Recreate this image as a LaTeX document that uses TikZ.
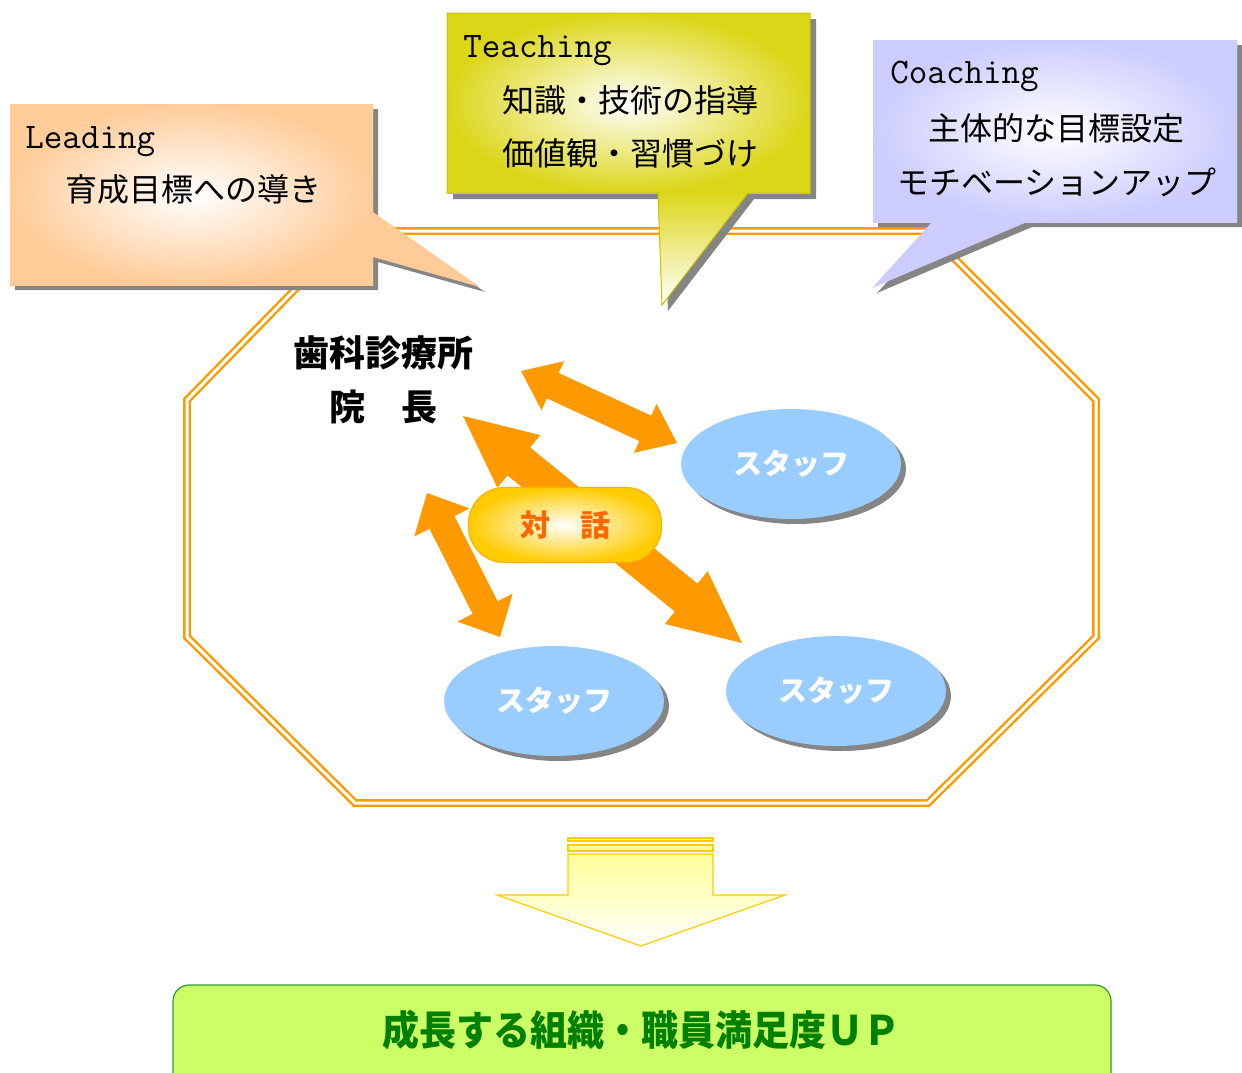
\documentclass[tikz,border=0pt]{standalone}
\usepackage{fontspec}
\newfontfamily\jp{Noto Sans CJK JP}
\usetikzlibrary{calc,shapes.geometric}
\definecolor{peach}{HTML}{FFCC99}
\definecolor{olivey}{RGB}{220,214,24}
\definecolor{oliveline}{RGB}{200,195,0}
\definecolor{lav}{HTML}{CCCCFF}
\definecolor{arr}{HTML}{FF9900}
\definecolor{octo}{HTML}{FF9900}
\definecolor{sky}{HTML}{99CCFF}
\definecolor{gold}{HTML}{FFCC00}
\definecolor{goldline}{HTML}{FFB000}
\definecolor{talkc}{HTML}{FF6600}
\definecolor{lime}{HTML}{CCFF66}
\definecolor{limeline}{HTML}{339933}
\definecolor{dgreen}{HTML}{008000}
\definecolor{shadowc}{HTML}{858585}
\definecolor{paleyellow}{HTML}{FFFF99}
\tikzset{
  lat/.style={font=\ttfamily\addfontfeature{FakeBold=0.6}\fontsize{18pt}{20pt}\selectfont, inner sep=0pt, anchor=base west},
  jtxt/.style={font=\jp\fontsize{16pt}{18pt}\selectfont, inner sep=0pt, anchor=west},
  staff/.style={ellipse, fill=sky, minimum width=110pt, minimum height=55pt, inner sep=0pt,
     text=white, font=\jp\bfseries\fontsize{14.5pt}{16pt}\selectfont},
  staffsh/.style={ellipse, fill=shadowc, minimum width=110pt, minimum height=55pt, inner sep=0pt},
  pill/.style={rounded corners=18pt, minimum width=96.5pt, minimum height=37.5pt, inner sep=0pt,
     inner color=white, outer color=gold, draw=goldline, line width=0.6pt,
     text=talkc, font=\jp\bfseries\fontsize{15pt}{17pt}\selectfont},
  arrowc/.style={fill=arr},
}
\newcommand\fatdouble[6]{%
  \coordinate (#6h1) at ($(#1)!#5!(#2)$);
  \coordinate (#6h2) at ($(#2)!#5!(#1)$);
  \fill[arrowc] (#1) -- ($(#6h1)!#4!90:(#2)$) -- ($(#6h1)!#3!90:(#2)$)
    -- ($(#6h2)!#3!-90:(#1)$) -- ($(#6h2)!#4!-90:(#1)$) -- (#2)
    -- ($(#6h2)!#4!90:(#1)$) -- ($(#6h2)!#3!90:(#1)$)
    -- ($(#6h1)!#3!-90:(#2)$) -- ($(#6h1)!#4!-90:(#2)$) -- cycle;}
\begin{document}
\begin{tikzpicture}[x=0.5pt,y=-0.5pt]
\useasboundingbox (0,0) rectangle (1242,1072);
% octagon
\draw[octo, double=white, line width=1.2pt, double distance=1.5pt, line join=miter]
  (352,231) -- (927,231) -- (1096,400) -- (1096,637) -- (928,803) -- (355,803)
  -- (187,637) -- (187,400) -- cycle;
% Leading callout
\fill[shadowc, shift={(5,5)}] (10,104) -- (373,104) -- (373,212) -- (480,287) -- (373,257)
  -- (373,285) -- (10,285) -- cycle;
\fill[peach] (10,104) -- (373,104) -- (373,212) -- (480,287) -- (373,257)
  -- (373,285) -- (10,285) -- cycle;
\shade[inner color=white, outer color=peach] (10,104) rectangle (373,285);
\node[lat] (lead) at (25,148) {Leading};
\node[jtxt] (lead2) at (65,189) {育成目標への導き};
% Teaching callout
\fill[shadowc, shift={(6,6)}] (447,13) -- (810,13) -- (810,193) -- (748,193) -- (662,305)
  -- (658,193) -- (447,193) -- cycle;
\fill[olivey] (447,13) -- (810,13) -- (810,193) -- (748,193) -- (662,305)
  -- (658,193) -- (447,193) -- cycle;
\shade[inner color=white, outer color=olivey] (447,13) rectangle (810,193);
\shade[top color=olivey, bottom color=white] (658,192) -- (748,192) -- (662,305) -- cycle;
\draw[oliveline, line width=0.5pt] (447,13) -- (810,13) -- (810,193) -- (748,193) -- (662,305)
  -- (658,193) -- (447,193) -- cycle;
\node[lat] (teach) at (463,57) {Teaching};
\node[jtxt] (teach2) at (502,100) {知識・技術の指導};
\node[jtxt] (teach3) at (502,153) {価値観・習慣づけ};
% Coaching callout
\fill[shadowc, shift={(5,5)}] (873,40) -- (1237,40) -- (1237,222) -- (1027,222) -- (872,288)
  -- (932,222) -- (873,222) -- cycle;
\fill[lav] (873,40) -- (1237,40) -- (1237,222) -- (1027,222) -- (872,288)
  -- (932,222) -- (873,222) -- cycle;
\shade[inner color=white, outer color=lav] (873,40) rectangle (1237,222);
\node[lat] (coach) at (890,83) {Coaching};
\node[jtxt] (coach2) at (928,128) {主体的な目標設定};
\node[jtxt] (coach3) at (897,182) {モチベーションアップ};
% title
\node[font=\jp\bfseries\fontsize{18pt}{20pt}\selectfont, inner sep=0pt] (clinic) at (383,353) {歯科診療所};
\node[font=\jp\bfseries\fontsize{18pt}{20pt}\selectfont, inner sep=0pt] (head) at (383,407) {院　長};
% staff ellipses
\node[staffsh] (s1sh) at (796,469) {};
\node[staffsh] (s2sh) at (559,706) {};
\node[staffsh] (s3sh) at (841,696) {};
\node[staff] (s1) at (791,464) {スタッフ};
\node[staff] (s2) at (554,701) {スタッフ};
\node[staff] (s3) at (836,691) {スタッフ};
% arrows
\coordinate (a1) at (521,371);
\coordinate (a2) at (677,443);
\coordinate (b1) at (463,416);
\coordinate (b2) at (742,643);
\coordinate (d1) at (427,493);
\coordinate (d2) at (500,637);
\fatdouble{a1}{a2}{7pt}{13.5pt}{17.5pt}{A}
\fatdouble{b1}{b2}{9pt}{17pt}{36pt}{B}
\fatdouble{d1}{d2}{7pt}{15.5pt}{16.5pt}{D}
% dialogue pill
\node[pill] (talk) at (565,525) {対　話};
% yellow down arrow
\shade[top color=paleyellow, bottom color=white, draw=gold, line width=0.6pt]
  (568,854) -- (713,854) -- (713,895) -- (785,895) -- (641,946) -- (497,895) -- (568,895) -- cycle;
\fill[paleyellow, draw=gold, line width=0.6pt] (568,845) rectangle (713,851);
\fill[paleyellow, draw=gold, line width=0.6pt] (568,838) rectangle (713,841);
% result box
\draw[fill=lime, draw=limeline, line width=0.6pt, rounded corners=8pt] (173,985) rectangle (1111,1100);
\node[font=\jp\bfseries\fontsize{18.5pt}{21pt}\selectfont, text=dgreen, inner sep=0pt, yscale=1.1] (result) at (641,1030) {成長する組織・職員満足度ＵＰ};
\end{tikzpicture}
\end{document}
